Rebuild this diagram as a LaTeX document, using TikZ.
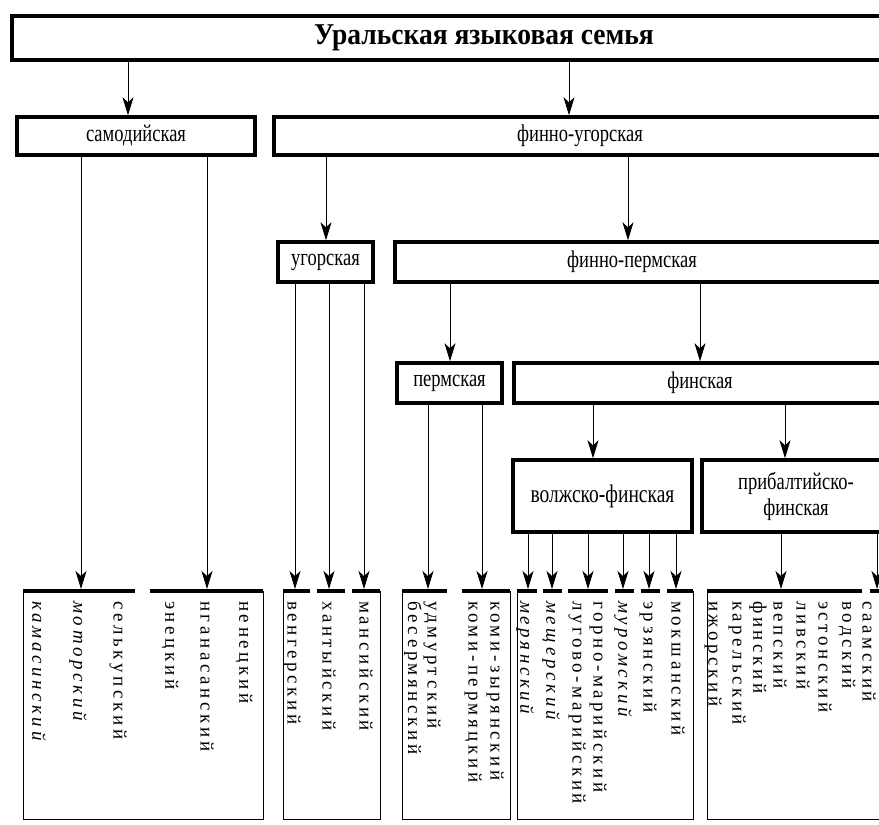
\documentclass[tikz,border=0pt]{standalone}
\usepackage{fontspec}
\setmainfont{Liberation Serif}
\usetikzlibrary{arrows.meta}
\newcommand{\tallt}[1]{\scalebox{1}[1.3]{#1}}
\begin{document}
\begin{tikzpicture}[x=1pt,y=-1pt,
  box/.style={draw, line width=3.4pt, inner sep=0pt, align=center, font=\fontsize{18.5}{24}\selectfont},
  boxtext/.style={inner sep=0pt, font=\fontsize{18.5}{24}\selectfont},
  arr/.style={line width=1pt, -{Stealth[length=18pt,width=11pt,inset=5pt]}},
  bar/.style={line width=4.5pt},
  frame/.style={line width=0.9pt},
  leaf/.style={rotate=-90, anchor=west, inner sep=0pt, font=\fontsize{19}{20}\selectfont\addfontfeatures{LetterSpace=19}},
  ext/.style={leaf, font=\fontsize{19}{20}\selectfont\itshape\addfontfeatures{LetterSpace=19}}
]
\useasboundingbox (0,0) rectangle (879,825);
\clip (0,0) rectangle (879,825);
\fill[white] (0,0) rectangle (879,825);

% boxes
\node[box, minimum width=944pt, minimum height=44pt, font=\fontsize{27.5}{30}\selectfont\bfseries] (ural) at (484,38) {\scalebox{1}[1.1]{Уральская языковая семья}};
\node[box, minimum width=238pt, minimum height=38pt] (samod) at (136,136) {\tallt{самодийская}};
\node[box, minimum width=612pt, minimum height=38pt] (fu) at (580,136) {\tallt{финно-угорская}};
\node[box, minimum width=95pt, minimum height=40pt] (ugor) at (325.5,262) {\tallt{угорская}};
\node[box, minimum width=505pt, minimum height=40pt] (fp) at (647.5,262) {};
\node[boxtext] (fptext) at (632,262) {\tallt{финно-пермская}};
\node[box, minimum width=105pt, minimum height=40pt] (perm) at (449.5,383) {\tallt{пермская}};
\node[box, minimum width=372pt, minimum height=40pt] (fin) at (700,383) {\tallt{финская}};
\node[box, minimum width=179pt, minimum height=72pt, font=\fontsize{19.5}{24}\selectfont] (volga) at (602.5,496) {\tallt{волжско-финская}};
\node[box, minimum width=188pt, minimum height=72pt] (balt) at (796,496) {\tallt{прибалтийско-}\\[2pt]\tallt{финская}};

% columns for the upper arrows
\coordinate (c1) at (128,0);
\coordinate (c2) at (569,0);
\coordinate (c3) at (326,0);
\coordinate (c4) at (628,0);
\coordinate (c5) at (450,0);
\coordinate (c6) at (700,0);
\coordinate (c7) at (593,0);
\coordinate (c8) at (785,0);

\draw[arr] (ural.south -| c1) -- (samod.north -| c1);
\draw[arr] (ural.south -| c2) -- (fu.north -| c2);
\draw[arr] (fu.south -| c3) -- (ugor.north -| c3);
\draw[arr] (fu.south -| c4) -- (fp.north -| c4);
\draw[arr] (fp.south -| c5) -- (perm.north -| c5);
\draw[arr] (fp.south -| c6) -- (fin.north -| c6);
\draw[arr] (fin.south -| c7) -- (volga.north -| c7);
\draw[arr] (fin.south -| c8) -- (balt.north -| c8);

% arrow targets on the leaf bars
\coordinate (s1) at (81,589);
\coordinate (s2) at (207,589);
\coordinate (u1) at (295,589);
\coordinate (u2) at (329,589);
\coordinate (u3) at (364,589);
\coordinate (p1) at (428,589);
\coordinate (p2) at (482,589);
\coordinate (v1) at (528,589);
\coordinate (v2) at (552,589);
\coordinate (v3) at (588,589);
\coordinate (v4) at (623,589);
\coordinate (v5) at (649,589);
\coordinate (v6) at (676,589);
\coordinate (b1) at (781,589);
\coordinate (b2) at (877,589);

\foreach \t in {s1,s2} \draw[arr] (samod.south -| \t) -- (\t);
\foreach \t in {u1,u2,u3} \draw[arr] (ugor.south -| \t) -- (\t);
\foreach \t in {p1,p2} \draw[arr] (perm.south -| \t) -- (\t);
\foreach \t in {v1,v2,v3,v4,v5,v6} \draw[arr] (volga.south -| \t) -- (\t);
\foreach \t in {b1,b2} \draw[arr] (balt.south -| \t) -- (\t);

% leaf frames
\draw[frame] (23,591) -- (23,819) -- (263,819) -- (263,591);
\draw[frame] (283,591) -- (283,819) -- (380,819) -- (380,591);
\draw[frame] (402,591) -- (402,819) -- (510,819) -- (510,591);
\draw[frame] (517,591) -- (517,819) -- (693,819) -- (693,591);
\draw[frame] (707,591) -- (707,819) -- (900,819);

% bars
\foreach \a/\b in {23/135,150/263,283/310,317/345,352/380,402/447,462/510,517/537,543/562,568/608,615/634,641/660,667/693,707/862,870/900}
  \draw[bar] (\a,591) -- (\b,591);

% leaves
\node[ext]  (l1)  at (39,601)  {камасинский};
\node[ext]  (l2)  at (78,601)  {моторский};
\node[leaf] (l3)  at (118,601) {селькупский};
\node[leaf] (l4)  at (170,601) {энецкий};
\node[leaf] (l5)  at (207,601) {нганасанский};
\node[leaf] (l6)  at (244,601) {ненецкий};
\node[leaf] (l7)  at (292,601) {венгерский};
\node[leaf] (l8)  at (329,601) {хантыйский};
\node[leaf] (l9)  at (366,601) {мансийский};
\node[leaf] (l10) at (413,601) {бесермянский};
\node[leaf] (l11) at (432,601) {удмуртский};
\node[leaf] (l12) at (473,601) {коми-пермяцкий};
\node[leaf] (l13) at (495,601) {коми-зырянский};
\node[ext]  (l14) at (525,601) {мерянский};
\node[ext]  (l15) at (551,601) {мещерский};
\node[leaf] (l16) at (577,601) {лугово-марийский};
\node[leaf] (l17) at (598,601) {горно-марийский};
\node[ext]  (l18) at (623,601) {муромский};
\node[leaf] (l19) at (648,601) {эрзянский};
\node[leaf] (l20) at (678,601) {мокшанский};
\node[leaf] (l21) at (713,601) {ижорский};
\node[leaf] (l22) at (737,601) {карельский};
\node[leaf] (l23) at (758,601) {финский};
\node[leaf] (l24) at (780,601) {вепский};
\node[leaf] (l25) at (803,601) {ливский};
\node[leaf] (l26) at (825,601) {эстонский};
\node[leaf] (l27) at (847,601) {водский};
\node[leaf] (l28) at (869,601) {саамский};
\end{tikzpicture}
\end{document}
